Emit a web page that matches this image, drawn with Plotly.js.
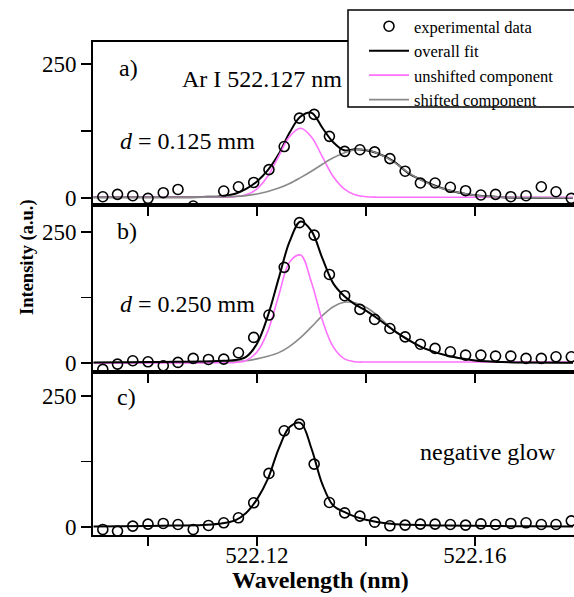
<!DOCTYPE html>
<html>
<head>
<meta charset="utf-8">
<script src="https://cdn.plot.ly/plotly-3.0.1.min.js"></script>
<style>html,body{margin:0;padding:0;background:#fff;overflow:hidden}#chart{width:574px;height:597px}</style>
</head>
<body>
<div id="chart"></div>
<script>
// Experimental wavelengths (nm)
const expWl = [522.0917, 522.0944, 522.0972, 522.1000, 522.1028, 522.1055, 522.1083, 522.1111,
  522.1139, 522.1166, 522.1194, 522.1222, 522.1250, 522.1278, 522.1305, 522.1333,
  522.1361, 522.1389, 522.1416, 522.1444, 522.1472, 522.1500, 522.1527, 522.1555,
  522.1583, 522.1611, 522.1638, 522.1666, 522.1694, 522.1722, 522.1749, 522.1777];
// Experimental intensities (a.u.)
const expA = [2.4, 6.8, 4.3, -0.6, 9.9, 16, -15, null, 13, 21, 29, 53, 96, 149, 156, 115,
  87, 90, 86, 73.5, 50, 28, 28, 20, 13.6, 5.6, 6.8, 2.5, 4.3, 21, 11.7, -0.6];
const expB = [-12, -2, 4.5, 2.5, -5, 1.3, 9, 7, 7.6, 19.7, 49, 91.6, 182.6, 267.8, 244, 169,
  128.5, 102.4, 83.3, 66, 50, 36, 28, 21.6, 15.3, 15.3, 13.4, 13.4, 9, 9, 12, 12];
const expC = [-4.4, -7.6, 1.9, 5.7, 7, 5, -4.4, 3.2, 8.3, 17.8, 46.4, 102.5, 183.8, 196.6, 120.2, 47,
  27.3, 21, 9.5, 2.5, 3.8, 5.7, 5.7, 5, 3.8, 6.3, 5, 7, 8.3, 5, 5, 12];

// Fit curves
const fitWl = [522.090, 522.095, 522.100, 522.105, 522.110, 522.113, 522.116, 522.118, 522.120,
  522.122, 522.124, 522.126, 522.128, 522.130, 522.132, 522.134, 522.136, 522.138, 522.140,
  522.142, 522.145, 522.148, 522.151, 522.155, 522.160, 522.165, 522.170, 522.178];
const fitA   = [1.5, 1.5, 1.5, 1.5, 2, 3, 8, 17, 31, 52, 82, 122, 152, 159, 131, 104, 89, 91, 89, 84, 69, 45, 30, 15, 5, 1.5, 0.5, 0];
const unshA  = [1.5, 1.5, 1.5, 1.5, 1.5, 1.5, 2.5, 6, 17, 41, 78, 115, 130, 114, 77, 40, 17, 6, 2.5, 1.5, 1.5, 1.5, 1.5, 1.5, 1.5, 1.5, 1.5, 1.5];
const shA    = [1.5, 1.5, 1.5, 1.5, 1.7, 2, 3, 4.5, 7.5, 12, 18.5, 27, 38, 50, 63, 75, 84, 90, 90, 84, 68, 46, 29, 15, 5, 1.5, 0.5, 0];
const fitB   = [1, 1.5, 2, 2.5, 3, 4, 6, 12, 37, 90, 162, 232, 270, 252, 200, 152, 128, 112, 100, 86, 63, 43, 27, 14, 5, 2, 1, 0.5];
const unshB  = [0.5, 0.5, 0.5, 0.5, 0.5, 0.6, 1.2, 5, 21, 61, 129, 193, 206, 154, 82, 31, 8.5, 2.5, 2, 2, 2, 2, 2, 2, 2, 2, 2, 2];
const shB    = [0.5, 0.5, 0.5, 0.7, 1, 1.5, 3, 4.5, 8, 13, 20, 32, 48.5, 69, 90.5, 107.5, 116, 115, 106.6, 92, 64, 44, 27, 14, 5, 2, 1, 0.5];
const fitC   = [1, 1.5, 2.2, 3, 4, 6.5, 13, 27, 53, 92, 150, 191, 199, 150, 82, 41, 29, 20, 14, 10, 6, 4.5, 3.5, 3, 2.5, 2, 1.5, 1];

const xTickVals = [522.10, 522.12, 522.14, 522.16, 522.18];
const xTickText = ['', '522.12', '', '522.16', ''];
const yTickVals = [0, 125, 250];
const yTickText = ['0', '', '250'];
const legendNames = ['experimental data', 'overall fit', 'unshifted component', 'shifted component'];
const panelLabels = ['a)', 'b)', 'c)'];

const PINK = '#ff70ff', GREY = '#8a8a8a';
const mk = {symbol: 'circle-open', size: 10, color: 'black', line: {width: 1.6, color: 'black'}};

function line(x, y, xa, ya, color, w, name, show, rank) {
  return {x: x, y: y, xaxis: xa, yaxis: ya, type: 'scatter', mode: 'lines',
    line: {color: color, width: w, shape: 'spline', smoothing: 1},
    name: name, showlegend: show, legendrank: rank, hoverinfo: 'skip'};
}
function pts(y, xa, ya, show) {
  return {x: expWl, y: y, xaxis: xa, yaxis: ya, type: 'scatter', mode: 'markers',
    marker: mk, name: legendNames[0], showlegend: show, legendrank: 1, cliponaxis: true, hoverinfo: 'skip'};
}

const data = [
  // panel a
  line(fitWl, fitA, 'x3', 'y3', 'black', 2, legendNames[1], true, 2),
  line(fitWl, unshA, 'x3', 'y3', PINK, 1.6, legendNames[2], true, 3),
  line(fitWl, shA, 'x3', 'y3', GREY, 1.6, legendNames[3], true, 4),
  pts(expA, 'x3', 'y3', true),
  // panel b
  line(fitWl, shB, 'x2', 'y2', GREY, 1.6, legendNames[3], false, 4),
  line(fitWl, unshB, 'x2', 'y2', PINK, 1.6, legendNames[2], false, 3),
  line(fitWl, fitB, 'x2', 'y2', 'black', 2, legendNames[1], false, 2),
  pts(expB, 'x2', 'y2', false),
  // panel c
  line(fitWl, fitC, 'x', 'y', 'black', 2, legendNames[1], false, 2),
  pts(expC, 'x', 'y', false)
];

const xr = [522.0899, 522.1782];
function xax(anchor, labels) {
  return {anchor: anchor, range: xr, domain: [0, 1], showgrid: false, zeroline: false,
    showline: true, linecolor: 'black', linewidth: 2, mirror: true,
    ticks: 'outside', ticklen: 9, tickwidth: 1.5, tickcolor: 'black',
    tickmode: 'array', tickvals: xTickVals, ticktext: xTickText,
    showticklabels: labels, tickfont: {size: 23}, ticklabelstandoff: -11};
}
function yax(anchor, dom, rng) {
  return {anchor: anchor, domain: dom, range: rng, showgrid: false, zeroline: false,
    showline: true, linecolor: 'black', linewidth: 2, mirror: false,
    ticks: 'outside', ticklen: 10, tickwidth: 1.5, tickcolor: 'black',
    tickmode: 'array', tickvals: yTickVals, ticktext: yTickText, tickfont: {size: 23}};
}

function px2x(px) { return (px - 93) / 481; }
function px2y(py) { return (535 - py) / 493; }
function ann(text, x, y, size, extra) {
  return Object.assign({text: text, xref: 'paper', yref: 'paper', x: px2x(x), y: px2y(y),
    xanchor: 'left', yanchor: 'middle', showarrow: false,
    font: {size: size, color: 'black', family: 'Liberation Serif, serif'}}, extra || {});
}

const layout = {
  width: 574, height: 597,
  margin: {l: 93, r: 0, t: 42, b: 62, autoexpand: false},
  paper_bgcolor: 'white', plot_bgcolor: 'white',
  font: {family: 'Liberation Serif, Times New Roman, serif', color: 'black', size: 23},
  showlegend: true,
  legend: {x: px2x(364), xanchor: 'left', y: px2y(9), yanchor: 'top',
    bgcolor: 'rgba(0,0,0,0)', borderwidth: 0,
    font: {size: 16.5, color: 'black', family: 'Liberation Serif, serif'},
    itemwidth: 40, tracegroupgap: 0},
  xaxis: xax('y', true),
  xaxis2: xax('y2', false),
  xaxis3: xax('y3', false),
  yaxis: yax('x', [0, 0.3306], [-15, 296]),
  yaxis2: yax('x2', [0.3306, 0.6694], [-17, 301.5]),
  yaxis3: yax('x3', [0.6694, 1], [-13, 291]),
  shapes: [{type: 'rect', xref: 'paper', yref: 'paper', x0: px2x(348), x1: 1.2,
    y0: px2y(107), y1: px2y(10), line: {color: 'black', width: 1.5}, fillcolor: 'white', layer: 'above'}],
  annotations: [
    ann(panelLabels[0], 117, 68, 24),
    ann(panelLabels[1], 115, 231, 24),
    ann(panelLabels[2], 115, 397, 24),
    ann('Ar I 522.127 nm', 180, 79, 24),
    ann('<i>d</i> = 0.125 mm', 118, 141, 24),
    ann('<i>d</i> = 0.250 mm', 118, 304, 24),
    ann('negative glow', 418, 452, 24),
    ann('<b>Wavelength (nm)</b>', 320, 580, 24, {xanchor: 'center'}),
    ann('<b>Intensity (a.u.)</b>', 27, 257, 18.5, {xanchor: 'center', textangle: -90})
  ]
};

Plotly.newPlot('chart', data, layout, {staticPlot: true, displayModeBar: false});
</script>
</body>
</html>
